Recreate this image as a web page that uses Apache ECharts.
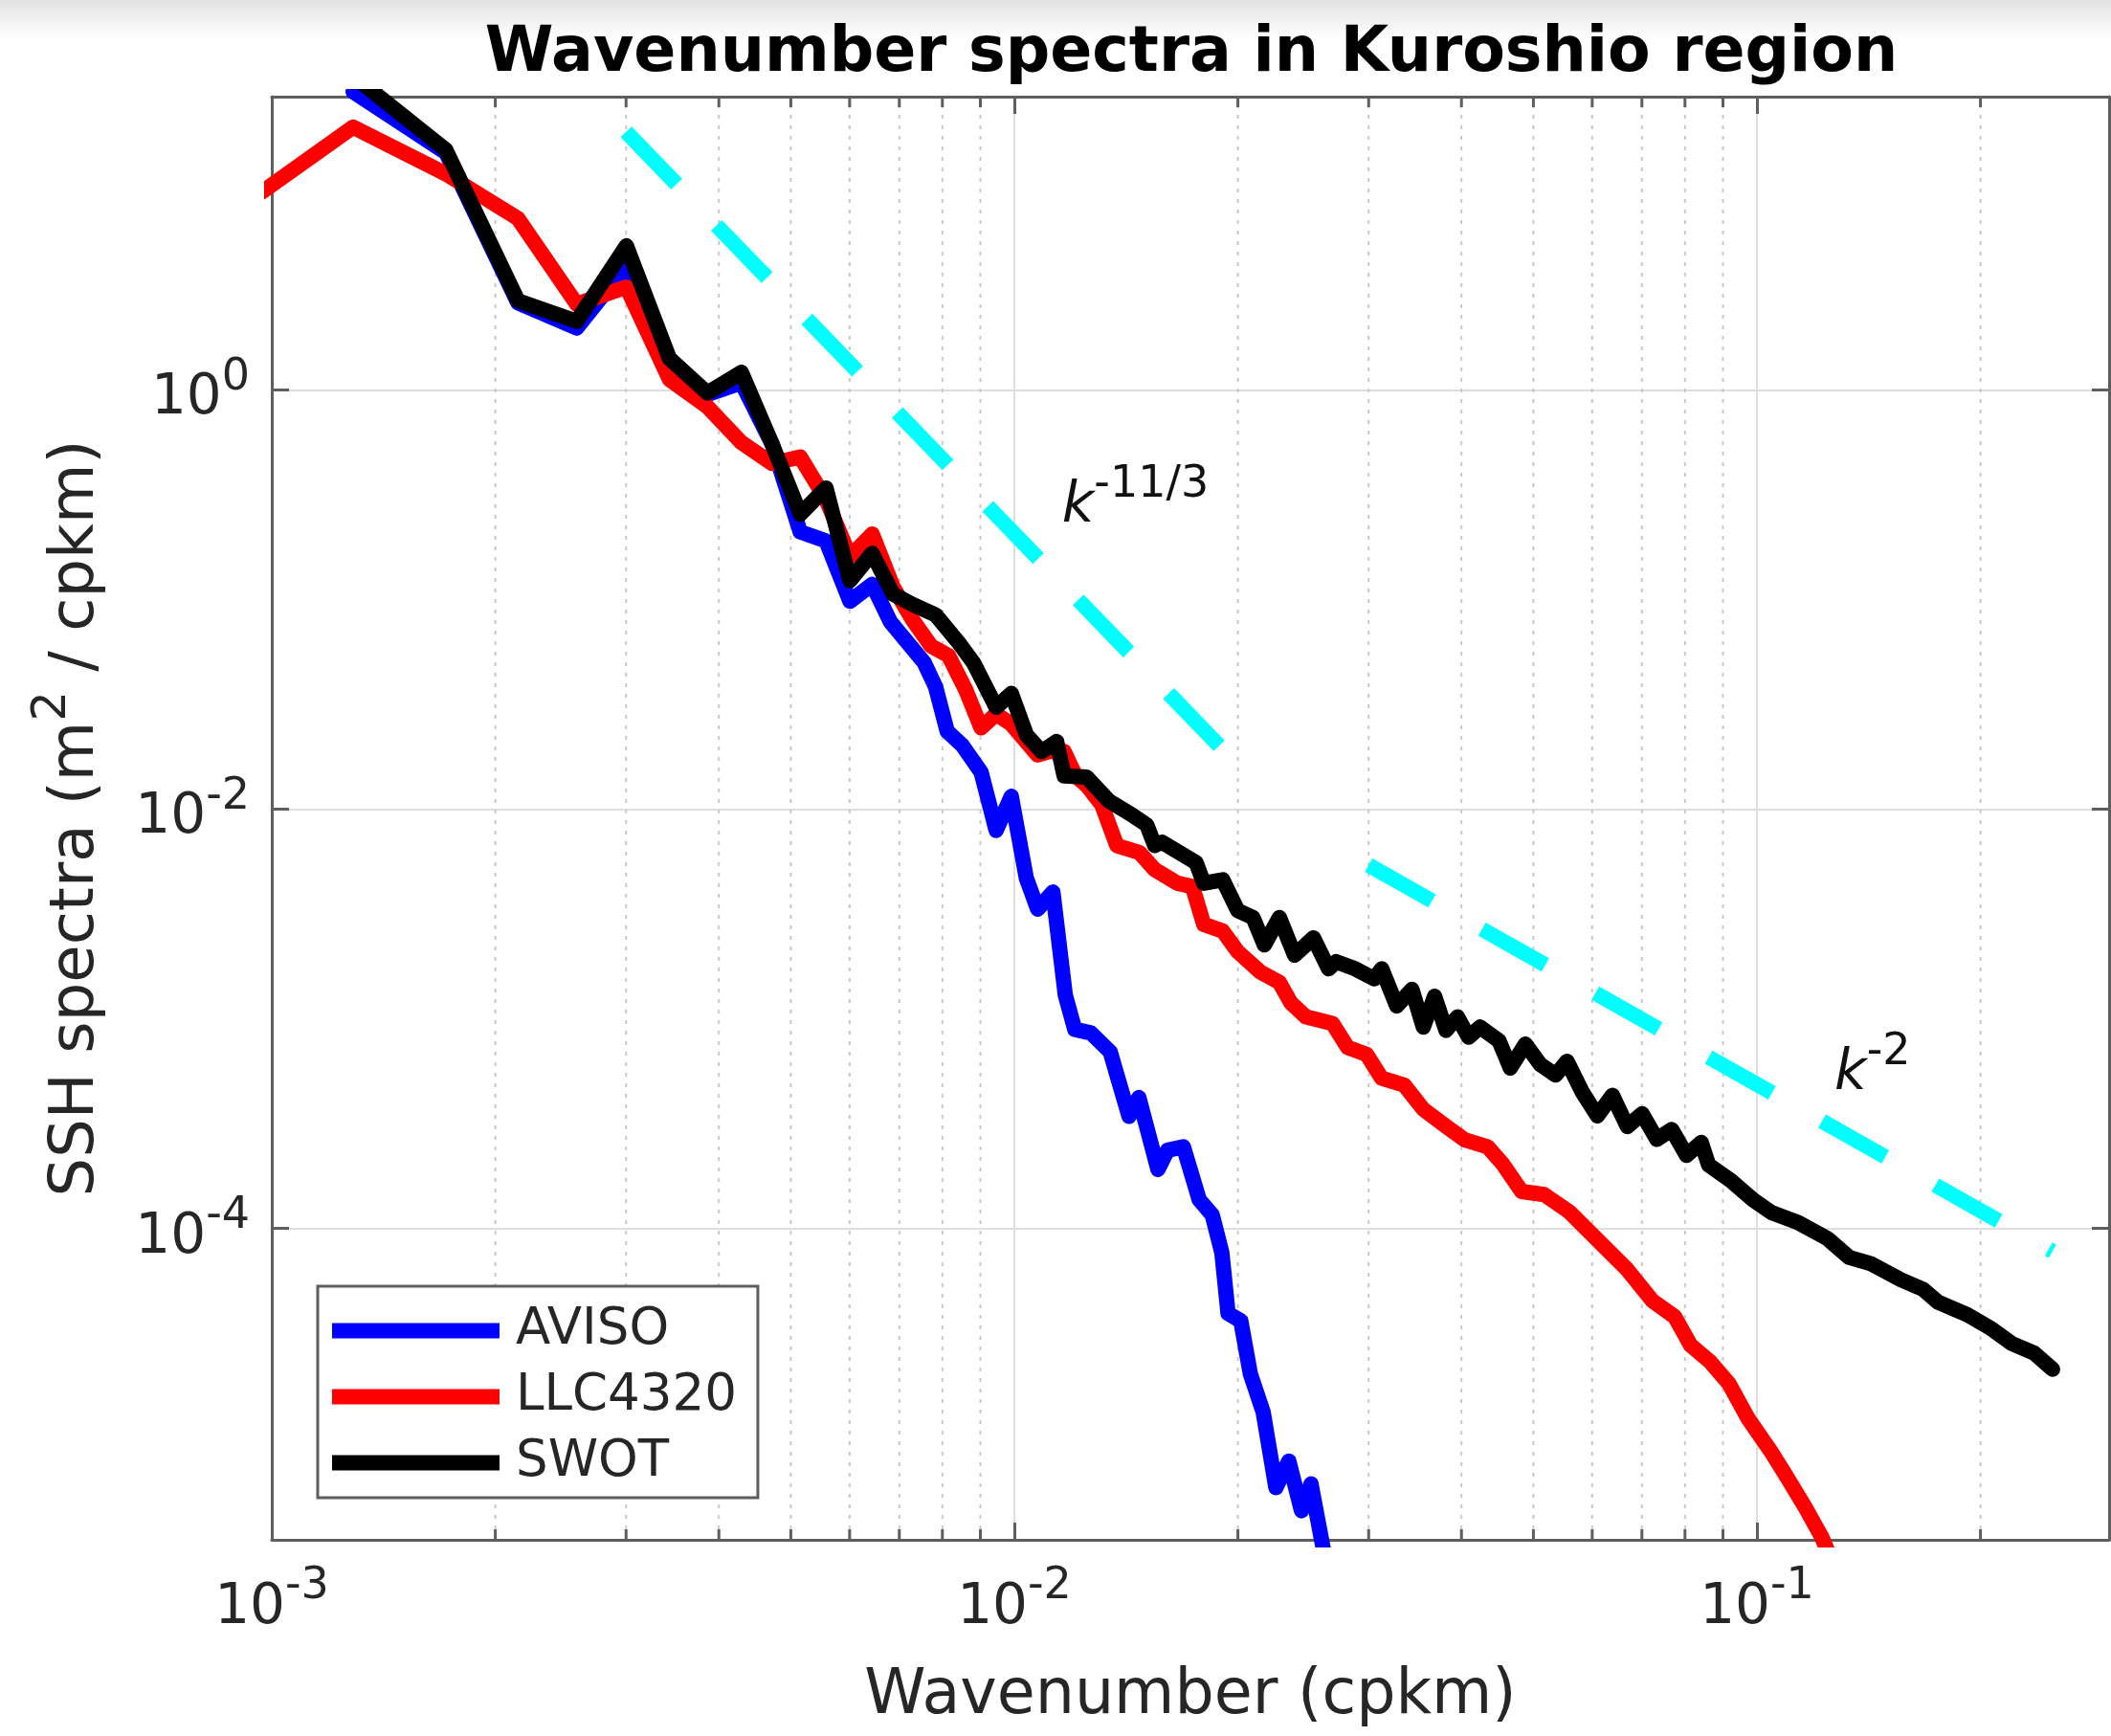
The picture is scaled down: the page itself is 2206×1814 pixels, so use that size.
<!DOCTYPE html>
<html>
<head>
<meta charset="utf-8">
<script src="https://cdn.jsdelivr.net/npm/echarts@6/dist/echarts.min.js"></script>
<style>
html,body{margin:0;padding:0;background:#ffffff;}
#chart{width:2206px;height:1814px;}
</style>
</head>
<body>
<div id="chart"></div>
<script>
// ---------------- data ----------------
const seriesNames = ['AVISO', 'LLC4320', 'SWOT'];
const chartTitle = 'Wavenumber spectra in Kuroshio region';
const xTitle = 'Wavenumber (cpkm)';

const avisoK = [0.001287, 0.001716, 0.002145, 0.002574, 0.003003, 0.003432, 0.003861, 0.00429, 0.004719, 0.005148, 0.005577, 0.006006, 0.006435, 0.006806, 0.007562, 0.007832, 0.00812, 0.008504, 0.009019, 0.009451, 0.009906, 0.01038, 0.01075, 0.01127, 0.01171, 0.01206, 0.01268, 0.01346, 0.01427, 0.01471, 0.01561, 0.01608, 0.01689, 0.01774, 0.01847, 0.01903, 0.0194, 0.02018, 0.02079, 0.02163, 0.0225, 0.02342, 0.02436, 0.02509, 0.02559, 0.0261];
const avisoS = [26.4, 13.5, 2.6, 1.97, 3.9, 1.41, 0.95, 1.08, 0.55, 0.21, 0.19, 0.098, 0.118, 0.0783, 0.0499, 0.0383, 0.0235, 0.0202, 0.015, 0.0079, 0.0115, 0.00467, 0.00333, 0.00402, 0.0013, 8.9e-4, 8.55e-4, 6.95e-4, 3.42e-4, 4.21e-4, 1.91e-4, 2.36e-4, 2.45e-4, 1.37e-4, 1.16e-4, 7.65e-5, 3.93e-5, 3.62e-5, 2.02e-5, 1.33e-5, 5.8e-6, 7.76e-6, 4.5e-6, 6.04e-6, 4.16e-6, 2.88e-6];

const llcK = [0.000858, 0.001287, 0.001716, 0.002145, 0.002574, 0.003003, 0.003432, 0.003861, 0.00429, 0.004719, 0.005148, 0.005577, 0.006006, 0.006435, 0.006864, 0.007293, 0.007722, 0.008151, 0.008604, 0.009019, 0.009451, 0.009906, 0.01075, 0.01114, 0.01167, 0.01209, 0.01253, 0.01311, 0.01374, 0.01474, 0.01545, 0.01658, 0.01737, 0.01799, 0.01908, 0.01999, 0.02145, 0.02275, 0.02357, 0.0247, 0.02682, 0.02811, 0.02981, 0.03124, 0.03351, 0.03554, 0.03813, 0.04045, 0.04338, 0.04546, 0.04821, 0.05171, 0.05588, 0.06051, 0.06678, 0.07232, 0.07749, 0.08141, 0.0864, 0.09167, 0.09727, 0.1042, 0.1095, 0.1162, 0.1221, 0.1246];
const llcS = [6.44, 17.9, 10.7, 6.56, 2.56, 3.09, 1.12, 0.83, 0.56, 0.445, 0.478, 0.30, 0.16, 0.205, 0.115, 0.08, 0.06, 0.054, 0.0369, 0.0244, 0.0284, 0.0254, 0.0181, 0.0188, 0.0188, 0.0144, 0.0129, 0.0105, 0.0067, 0.0062, 0.00515, 0.00443, 0.00427, 0.00282, 0.00262, 0.00209, 0.00167, 0.00149, 0.00119, 0.00102, 9.48e-4, 7.29e-4, 6.76e-4, 5.2e-4, 4.82e-4, 3.7e-4, 3.07e-4, 2.64e-4, 2.45e-4, 2.03e-4, 1.5e-4, 1.45e-4, 1.2e-4, 9.06e-5, 6.4e-5, 4.51e-5, 3.79e-5, 2.77e-5, 2.32e-5, 1.82e-5, 1.24e-5, 8.73e-6, 6.6e-6, 4.66e-6, 3.4e-6, 2.88e-6];

const swotK = [0.001287, 0.001716, 0.002145, 0.002574, 0.003003, 0.003432, 0.003861, 0.00429, 0.004719, 0.005148, 0.005577, 0.006006, 0.006435, 0.006864, 0.007301, 0.007832, 0.008404, 0.008808, 0.009451, 0.009906, 0.01038, 0.01088, 0.0114, 0.01167, 0.01251, 0.01342, 0.01439, 0.01508, 0.01545, 0.01581, 0.01697, 0.01757, 0.01799, 0.01908, 0.01999, 0.02096, 0.02171, 0.02275, 0.02384, 0.02528, 0.02649, 0.02713, 0.02877, 0.03051, 0.03124, 0.03273, 0.03431, 0.03554, 0.03681, 0.03813, 0.03951, 0.04091, 0.04238, 0.04493, 0.04654, 0.04877, 0.05111, 0.05358, 0.05549, 0.05816, 0.06097, 0.06388, 0.0669, 0.07004, 0.07331, 0.07678, 0.08039, 0.08414, 0.08608, 0.09222, 0.09878, 0.1046, 0.1134, 0.1243, 0.1331, 0.1426, 0.1563, 0.1674, 0.1753, 0.1921, 0.2058, 0.2205, 0.2363, 0.2501];
const swotS = [31.4, 13.9, 2.66, 2.12, 4.86, 1.41, 0.965, 1.21, 0.55, 0.255, 0.34, 0.123, 0.166, 0.106, 0.0945, 0.0844, 0.0625, 0.0499, 0.0306, 0.0356, 0.0226, 0.0188, 0.021, 0.0144, 0.01422, 0.0109, 0.0094, 0.0084, 0.0067, 0.00695, 0.00598, 0.00555, 0.00443, 0.0046, 0.00328, 0.00304, 0.00225, 0.00304, 0.00201, 0.00243, 0.00173, 0.00187, 0.00173, 0.00155, 0.00173, 0.00115, 0.00138, 9.12e-4, 0.00128, 8.8e-4, 0.00102, 8.16e-4, 9.12e-4, 7.86e-4, 5.82e-4, 7.57e-4, 6.04e-4, 5.39e-4, 6.27e-4, 4.48e-4, 3.44e-4, 4.31e-4, 3.06e-4, 3.52e-4, 2.66e-4, 2.96e-4, 2.23e-4, 2.57e-4, 2.01e-4, 1.69e-4, 1.37e-4, 1.19e-4, 1.07e-4, 8.97e-5, 7.27e-5, 6.77e-5, 5.69e-5, 5.12e-5, 4.45e-5, 3.87e-5, 3.36e-5, 2.82e-5, 2.54e-5, 2.13e-5];

// reference slopes (end points)
const slope113K = [0.003, 0.02];
const slope113S = [17.0, 0.0162];
const slope2K = [0.03, 0.25];
const slope2S = [5.4e-3, 7.78e-5];

// slope annotations
const noteK = [0.01159, 0.1272];
const noteS = [0.4626, 9.07e-4];
const noteExp = ['-11/3', '-2'];

// axis limits and minor tick values
const X_MIN = 1e-3, X_MAX = 0.298;
const Y_MIN = 3.27e-6, Y_MAX = 25;
const minorTicks = [0.002, 0.003, 0.004, 0.005, 0.006, 0.007, 0.008, 0.009,
                    0.02, 0.03, 0.04, 0.05, 0.06, 0.07, 0.08, 0.09, 0.2];

// ---------------- chart ----------------
const FONT = 'DejaVu Sans';
const TXT = '#262626';
const AX = '#5e5e5e';
const zip = (a, b) => a.map((v, i) => [v, b[i]]);

function powLabel(v) {
  const e = Math.log10(v);
  const r = Math.round(e);
  if (Math.abs(e - r) > 1e-6) return '';
  return '{b|10}{s|' + r + '}';
}
const powRich = {
  b: { fontFamily: FONT, fontSize: 58, color: TXT, padding: [20, 0, 0, 0], verticalAlign: 'middle' },
  s: { fontFamily: FONT, fontSize: 46, color: TXT, padding: [0, 0, 25, 0], verticalAlign: 'middle' }
};
const axisLineStyle = { color: AX, width: 3 };

function makeX(pos, visible, grid) {
  return {
    type: 'log', logBase: 10, min: X_MIN, max: X_MAX, position: pos, gridIndex: 0,
    z: grid ? 0 : 1,
    nameMoveOverlap: false,
    axisLine: { show: visible, onZero: false, lineStyle: axisLineStyle },
    axisTick: { show: visible, inside: true, length: 18, lineStyle: axisLineStyle },
    minorTick: { show: false },
    axisLabel: { show: false },
    splitLine: { show: grid, lineStyle: { color: '#dedede', width: 2, type: 'solid' } },
    minorSplitLine: { show: false },
    axisPointer: { show: false }
  };
}
function makeY(pos, visible, grid) {
  return {
    type: 'log', logBase: 100, min: Y_MIN, max: Y_MAX, position: pos, gridIndex: 0,
    z: grid ? 0 : 1,
    nameMoveOverlap: false,
    axisLine: { show: visible, onZero: false, lineStyle: axisLineStyle },
    axisTick: { show: visible, inside: true, length: 18, lineStyle: axisLineStyle },
    minorTick: { show: false },
    axisLabel: { show: false },
    splitLine: { show: grid, lineStyle: { color: '#dedede', width: 2, type: 'solid' } },
    minorSplitLine: { show: false },
    axisPointer: { show: false }
  };
}

const xBottom = makeX('bottom', true, false);
xBottom.axisLabel = { show: true, formatter: powLabel, rich: powRich, margin: 23, color: TXT };
xBottom.name = xTitle;
xBottom.nameLocation = 'middle';
xBottom.nameGap = 132;
xBottom.nameTextStyle = { fontFamily: FONT, fontSize: 65, color: TXT };

const yLeft = makeY('left', true, false);
yLeft.axisLabel = { show: true, formatter: powLabel, rich: powRich, margin: 23, color: TXT };
yLeft.name = '{m|SSH spectra (m}{s|2}{m| / cpkm)}';
yLeft.nameLocation = 'middle';
yLeft.nameGap = 154;
yLeft.nameTextStyle = {
  color: TXT,
  rich: {
    m: { fontFamily: FONT, fontSize: 64, color: TXT, verticalAlign: 'middle' },
    s: { fontFamily: FONT, fontSize: 50, color: TXT, padding: [0, 0, 50, 0], verticalAlign: 'middle' }
  }
};

const lineSeries = (name, K, S, color) => ({
  type: 'line', name: name, xAxisIndex: 0, yAxisIndex: 0,
  data: zip(K, S), symbol: 'none', showSymbol: false, clip: true, z: 2,
  lineStyle: { color: color, width: 16, join: 'round', cap: 'round' },
  itemStyle: { color: color },
  emphasis: { disabled: true }, silent: true
});
const slopeSeries = (name, K, S) => ({
  type: 'line', name: name, xAxisIndex: 0, yAxisIndex: 0,
  data: zip(K, S), symbol: 'none', showSymbol: false, clip: true, z: 3,
  lineStyle: { color: '#00ffff', width: 16, type: [76, 60], cap: 'butt' },
  itemStyle: { color: '#00ffff' },
  emphasis: { disabled: true }, silent: true
});

const option = {
  backgroundColor: '#ffffff',
  animation: false,
  graphic: [{
    type: 'rect', left: 0, top: 0, z: -10, silent: true,
    shape: { width: 2206, height: 40 },
    style: { fill: { type: 'linear', x: 0, y: 0, x2: 0, y2: 1,
      colorStops: [{ offset: 0, color: '#e2e2e2' }, { offset: 1, color: '#ffffff' }] } }
  }],
  title: {
    text: chartTitle, left: 1245, top: 25, padding: 0, textAlign: 'center',
    textStyle: { fontFamily: FONT, fontSize: 65, fontWeight: 'bold', color: '#000000' }
  },
  grid: { left: 284, top: 101, right: 2, bottom: 205, containLabel: false, outerBoundsMode: 'none' },
  legend: {
    data: seriesNames, orient: 'vertical', left: 332, top: 1344, z: 5,
    icon: 'rect', itemWidth: 175, itemHeight: 16, itemGap: 16,
    padding: [20, 22, 10, 15], backgroundColor: '#ffffff',
    borderColor: AX, borderWidth: 3, selectedMode: false,
    itemStyle: { borderWidth: 0 },
    formatter: name => '{t|' + name + '}',
    textStyle: { rich: { t: { fontFamily: FONT, fontSize: 53, color: TXT, padding: [0, 0, 0, 12] } } }
  },
  xAxis: [xBottom, makeX('top', true, false), makeX('bottom', false, true)],
  yAxis: [yLeft, makeY('right', true, false), makeY('left', false, true)],
  series: [
    {
      type: 'custom', name: 'minor', xAxisIndex: 0, yAxisIndex: 0, z: 0.5, silent: true, clip: false,
      data: minorTicks.map(v => [v, Y_MAX]),
      renderItem: function (params, api) {
        const v = api.value(0);
        const pb = api.coord([v, Y_MIN]);
        const pt = api.coord([v, Y_MAX]);
        return {
          type: 'group',
          children: [
            { type: 'line', shape: { x1: pb[0], y1: pb[1], x2: pt[0], y2: pt[1] },
              style: { stroke: '#c9c9c9', lineWidth: 2, lineDash: [4, 7] } },
            { type: 'line', shape: { x1: pb[0], y1: pb[1], x2: pb[0], y2: pb[1] - 11 },
              style: { stroke: AX, lineWidth: 3 } },
            { type: 'line', shape: { x1: pt[0], y1: pt[1], x2: pt[0], y2: pt[1] + 11 },
              style: { stroke: AX, lineWidth: 3 } }
          ]
        };
      }
    },
    lineSeries(seriesNames[0], avisoK, avisoS, '#0000ff'),
    lineSeries(seriesNames[1], llcK, llcS, '#ff0000'),
    lineSeries(seriesNames[2], swotK, swotS, '#000000'),
    slopeSeries('k113', slope113K, slope113S),
    slopeSeries('k2', slope2K, slope2S),
    {
      type: 'scatter', name: 'notes', xAxisIndex: 0, yAxisIndex: 0, z: 4, silent: true,
      symbolSize: 0.01, itemStyle: { color: '#000000', opacity: 1 },
      data: noteK.map((k, i) => ({ value: [k, noteS[i]], label: { formatter: '{k|k}{s|' + noteExp[i] + '}' } })),
      label: {
        show: true, position: [0, 0], align: 'left', verticalAlign: 'top', color: '#111111', opacity: 1,
        rich: {
          k: { fontFamily: FONT, fontSize: 58, fontStyle: 'italic', color: '#111111', padding: [20, 0, 0, 0], verticalAlign: 'middle' },
          s: { fontFamily: FONT, fontSize: 46, color: '#111111', padding: [0, 0, 25, 0], verticalAlign: 'middle' }
        }
      }
    }
  ]
};

const chart = echarts.init(document.getElementById('chart'), null, { renderer: 'canvas', width: 2206, height: 1814 });
chart.setOption(option);
</script>
</body>
</html>
